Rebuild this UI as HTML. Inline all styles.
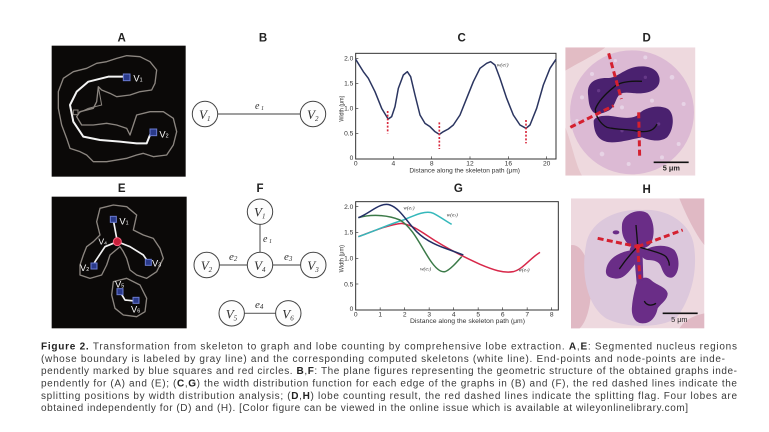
<!DOCTYPE html>
<html><head><meta charset="utf-8"><style>
html,body{margin:0;padding:0;background:#fff;}
svg{display:block;}
.lbl{font-family:"Liberation Sans",sans-serif;font-weight:bold;font-size:11.5px;fill:#222;text-anchor:middle;}
.cap{font-family:"Liberation Sans",sans-serif;font-size:10px;fill:#3a3a3a;}
.cap tspan.b{font-weight:bold;fill:#222;}
.tk{font-family:"Liberation Sans",sans-serif;font-size:20px;fill:#333;}
.ser{font-family:"Liberation Serif",serif;font-style:italic;fill:#333;}
.wl{font-family:"Liberation Sans",sans-serif;font-size:13px;fill:#fff;}
</style></head><body>
<svg width="769" height="432" viewBox="0 0 769 432" xmlns="http://www.w3.org/2000/svg">
<defs>
<clipPath id="cd"><rect x="10" y="10" width="390" height="385"/></clipPath>
<clipPath id="ch"><rect x="15" y="10" width="400" height="390"/></clipPath>
</defs>
<rect width="769" height="432" fill="#fff"/>

<!-- panel labels -->
<text class="lbl" x="121.7" y="41.7">A</text>
<text class="lbl" x="263" y="41.7">B</text>
<text class="lbl" x="461.7" y="41.7">C</text>
<text class="lbl" x="646.7" y="41.7">D</text>
<text class="lbl" x="121.7" y="192">E</text>
<text class="lbl" x="260" y="192">F</text>
<text class="lbl" x="458.3" y="192">G</text>
<text class="lbl" x="646.7" y="193">H</text>

<!-- Panel A -->
<g transform="translate(30,25) scale(0.33333)">
<rect x="65" y="62" width="402" height="393" fill="#0b0908"/>
<path d="M260,100 L290,92 L330,95 L360,110 L380,135 L375,175 L365,195 L330,200 L300,210 L260,215 L240,205 L215,195 L205,185 L200,230 L190,250 L150,260 L140,275 L155,300 L190,300 L230,295 L260,300 L290,310 L300,330 L310,300 L320,270 L360,260 L400,260 L430,280 L440,320 L430,360 L410,390 L370,395 L340,385 L320,390 L290,400 L230,410 L190,410 L170,390 L150,380 L120,370 L110,340 L95,300 L85,250 L85,200 L100,160 L130,140 L170,130 L200,115 L230,110 Z" fill="none" stroke="#8c8680" stroke-width="4" stroke-linejoin="round"/>
<path d="M205,185 L215,240 L175,250 L150,262" fill="none" stroke="#8c8680" stroke-width="3"/>
<path d="M290,155 L235,155 L175,170 L140,200 L120,240 L130,290 L160,335 L210,345 L270,350 L320,355 L350,355 L360,330 L370,322" fill="none" stroke="#f4f4f4" stroke-width="6" stroke-linejoin="round"/>
<rect x="130" y="255" width="14" height="14" fill="none" stroke="#8c8680" stroke-width="3"/>
<rect x="280" y="147" width="20" height="20" fill="#2a3a8a" stroke="#6a7ad0" stroke-width="3"/>
<rect x="360" y="312" width="20" height="20" fill="#2a3a8a" stroke="#6a7ad0" stroke-width="3"/>
<text class="wl" x="310" y="170" style="font-size:28px">V<tspan style="font-size:16px">1</tspan></text>
<text class="wl" x="388" y="338" style="font-size:28px">V<tspan style="font-size:16px">2</tspan></text>
</g>

<!-- Panel B -->
<line x1="218" y1="114" x2="300" y2="114" stroke="#666" stroke-width="1.2"/>
<circle cx="205" cy="114" r="12.7" fill="#fdfdfd" stroke="#444" stroke-width="1"/>
<circle cx="313" cy="114" r="12.7" fill="#fdfdfd" stroke="#444" stroke-width="1"/>
<text class="ser" x="199" y="119" font-size="13">V<tspan font-size="7" dy="2">1</tspan></text>
<text class="ser" x="307" y="119" font-size="13">V<tspan font-size="7" dy="2">2</tspan></text>
<text class="ser" x="255" y="109" font-size="10">e<tspan font-size="6" dy="1"> 1</tspan></text>

<!-- Panel C -->
<g transform="translate(320,25) scale(0.33333)">
<rect x="107" y="85" width="601" height="317" fill="none" stroke="#333" stroke-width="3"/>
<g stroke="#333" stroke-width="2">
<line x1="220" y1="402" x2="220" y2="394"/><line x1="335" y1="402" x2="335" y2="394"/><line x1="450" y1="402" x2="450" y2="394"/><line x1="565" y1="402" x2="565" y2="394"/><line x1="680" y1="402" x2="680" y2="394"/>
<line x1="107" y1="100" x2="115" y2="100"/><line x1="107" y1="175" x2="115" y2="175"/><line x1="107" y1="250" x2="115" y2="250"/><line x1="107" y1="325" x2="115" y2="325"/>
</g>
<text class="tk" x="100" y="107" text-anchor="end">2.0</text>
<text class="tk" x="100" y="182" text-anchor="end">1.5</text>
<text class="tk" x="100" y="257" text-anchor="end">1.0</text>
<text class="tk" x="100" y="332" text-anchor="end">0.5</text>
<text class="tk" x="100" y="405" text-anchor="end">0</text>
<text class="tk" x="107" y="422" text-anchor="middle">0</text>
<text class="tk" x="220" y="422" text-anchor="middle">4</text>
<text class="tk" x="335" y="422" text-anchor="middle">8</text>
<text class="tk" x="450" y="422" text-anchor="middle">12</text>
<text class="tk" x="565" y="422" text-anchor="middle">16</text>
<text class="tk" x="680" y="422" text-anchor="middle">20</text>
<text class="tk" x="268" y="442" textLength="332" lengthAdjust="spacingAndGlyphs">Distance along the skeleton path (μm)</text>
<text class="tk" transform="translate(70,290) rotate(-90)" textLength="78" lengthAdjust="spacingAndGlyphs">Width (μm)</text>
<polyline points="107,103 130,140 145,160 165,200 185,250 200,275 205,282 215,275 225,245 235,190 250,150 262,140 272,155 285,210 300,270 315,295 330,305 345,320 358,328 370,320 385,312 400,300 420,270 440,220 460,170 480,130 500,115 512,110 525,120 540,160 560,220 580,270 600,300 618,310 630,300 650,250 670,180 690,130 708,103" fill="none" stroke="#2b3560" stroke-width="4.5" stroke-linejoin="round"/>
<g stroke="#d8283c" stroke-width="5" stroke-dasharray="6 5">
<line x1="203" y1="258" x2="203" y2="325"/>
<line x1="358" y1="292" x2="358" y2="372"/>
<line x1="618" y1="285" x2="618" y2="355"/>
</g>
<text class="ser" x="530" y="124" font-size="17">w(e<tspan font-size="11">1</tspan>)</text>
</g>

<!-- Panel D -->
<g transform="translate(562,44) scale(0.33333)">
<g clip-path="url(#cd)">
<rect x="10" y="10" width="390" height="385" fill="#eed9de"/>
<path d="M10,10 L130,10 C105,30 60,50 10,80 Z" fill="#e2bcc4"/>
<path d="M10,250 C30,300 40,360 60,395 L10,395 Z" fill="#e6c6cc"/>
<circle cx="210" cy="205" r="186" fill="#dcbad4"/>
<g fill="#eadaea" opacity="0.8">
<circle cx="60" cy="160" r="6"/><circle cx="330" cy="100" r="7"/><circle cx="350" cy="300" r="6"/><circle cx="120" cy="330" r="7"/><circle cx="200" cy="360" r="6"/><circle cx="300" cy="340" r="6"/><circle cx="90" cy="90" r="6"/><circle cx="365" cy="180" r="6"/><circle cx="250" cy="40" r="6"/><circle cx="45" cy="230" r="5"/><circle cx="160" cy="50" r="5"/><circle cx="270" cy="170" r="6"/><circle cx="180" cy="190" r="6"/>
</g>
<path d="M78,150 C75,115 100,100 140,102 C165,100 180,80 215,70 C250,62 285,70 292,100 C298,130 270,148 230,148 C205,148 190,142 175,150 C160,160 160,190 140,200 C120,210 100,215 90,200 C80,185 80,170 78,150 Z" fill="#4a216f"/>
<path d="M95,230 C100,215 130,212 160,218 C185,222 205,225 225,215 C245,190 290,180 318,195 C340,210 335,260 315,280 C295,295 265,290 240,280 C210,285 180,295 150,295 C115,295 95,275 95,230 Z" fill="#4a216f"/>
<g fill="#7a4a9a" opacity="0.6"><circle cx="110" cy="140" r="5"/><circle cx="250" cy="100" r="5"/><circle cx="290" cy="240" r="5"/><circle cx="180" cy="260" r="5"/></g>
<path d="M240,112 C200,110 170,115 155,130 C130,150 110,170 100,195 C100,215 115,240 135,250 C165,258 200,255 230,262 C255,265 275,262 285,240" fill="none" stroke="#111" stroke-width="4"/>
<g stroke="#d42030" stroke-width="9" stroke-dasharray="18 10">
<line x1="140" y1="28" x2="178" y2="165"/>
<line x1="25" y1="250" x2="155" y2="185"/>
<line x1="230" y1="205" x2="233" y2="340"/>
</g>
<line x1="275" y1="355" x2="380" y2="355" stroke="#111" stroke-width="5"/>
<text x="328" y="380" text-anchor="middle" style="font-family:'Liberation Sans',sans-serif;font-weight:bold;font-size:22px;fill:#222">5 μm</text>
</g>
</g>

<!-- Panel E -->
<g transform="translate(30,175) scale(0.33333)">
<rect x="65" y="65" width="405" height="395" fill="#0b0908"/>
<path d="M210,100 L250,90 L290,95 L320,120 L310,165 L340,180 L370,190 L390,220 L400,250 L380,290 L350,310 L320,300 L300,285 L290,250 L280,230 L270,215 L240,240 L230,270 L215,300 L180,310 L150,300 L150,270 L160,240 L170,215 L190,200 L210,180 L200,140 Z" fill="none" stroke="#8c8680" stroke-width="4" stroke-linejoin="round"/>
<path d="M250,320 L290,310 L330,330 L350,370 L345,410 L320,425 L280,420 L255,400 L245,360 Z" fill="none" stroke="#8c8680" stroke-width="4" stroke-linejoin="round"/>
<g fill="none" stroke="#f4f4f4" stroke-width="5" stroke-linejoin="round">
<path d="M262,200 L250,135"/><path d="M262,200 L225,215 L195,260 L190,272"/><path d="M262,200 L300,215 L340,240 L355,262"/><path d="M270,350 L285,375 L315,378"/>
</g>
<g fill="#2a3a8a" stroke="#6a7ad0" stroke-width="3">
<rect x="241" y="124" width="18" height="18"/><rect x="183" y="264" width="18" height="18"/><rect x="346" y="253" width="18" height="18"/><rect x="261" y="341" width="18" height="18"/><rect x="309" y="367" width="18" height="18"/>
</g>
<circle cx="262" cy="200" r="12" fill="#c8203a" stroke="#ff6080" stroke-width="3"/>
<text class="wl" x="268" y="148" style="font-size:28px">V<tspan style="font-size:16px">1</tspan></text>
<text class="wl" x="205" y="208" style="font-size:26px">V<tspan style="font-size:15px">4</tspan></text>
<text class="wl" x="150" y="288" style="font-size:28px">V<tspan style="font-size:16px">2</tspan></text>
<text class="wl" x="366" y="275" style="font-size:28px">V<tspan style="font-size:16px">3</tspan></text>
<text class="wl" x="255" y="338" style="font-size:28px">V<tspan style="font-size:16px">5</tspan></text>
<text class="wl" x="303" y="412" style="font-size:28px">V<tspan style="font-size:16px">6</tspan></text>
</g>

<!-- Panel F -->
<g stroke="#666" stroke-width="1.2">
<line x1="260" y1="224" x2="260" y2="252"/>
<line x1="219" y1="265" x2="247" y2="265"/>
<line x1="273" y1="265" x2="301" y2="265"/>
<line x1="244" y1="313.3" x2="276" y2="313.3"/>
</g>
<g fill="#fdfdfd" stroke="#444" stroke-width="1">
<circle cx="260" cy="211.7" r="12.7"/><circle cx="206.7" cy="265" r="12.7"/><circle cx="260" cy="265" r="12.7"/><circle cx="313.3" cy="265" r="12.7"/><circle cx="231.7" cy="313.3" r="12.7"/><circle cx="288.3" cy="313.3" r="12.7"/>
</g>
<text class="ser" x="254" y="216.7" font-size="13">V<tspan font-size="7" dy="2">1</tspan></text>
<text class="ser" x="200.7" y="270" font-size="13">V<tspan font-size="7" dy="2">2</tspan></text>
<text class="ser" x="254" y="270" font-size="13">V<tspan font-size="7" dy="2">4</tspan></text>
<text class="ser" x="307.3" y="270" font-size="13">V<tspan font-size="7" dy="2">3</tspan></text>
<text class="ser" x="225.7" y="318.3" font-size="13">V<tspan font-size="7" dy="2">5</tspan></text>
<text class="ser" x="282.3" y="318.3" font-size="13">V<tspan font-size="7" dy="2">6</tspan></text>
<text class="ser" x="263" y="242" font-size="10">e<tspan font-size="6" dy="1"> 1</tspan></text>
<text class="ser" x="229" y="260" font-size="11">e<tspan font-size="7" dy="1">2</tspan></text>
<text class="ser" x="284" y="260" font-size="11">e<tspan font-size="7" dy="1">3</tspan></text>
<text class="ser" x="255" y="308" font-size="11">e<tspan font-size="7" dy="1">4</tspan></text>

<!-- Panel G -->
<g transform="translate(320,175) scale(0.33333)">
<rect x="107" y="80" width="608" height="325" fill="none" stroke="#333" stroke-width="3"/>
<g stroke="#333" stroke-width="2">
<line x1="180.5" y1="405" x2="180.5" y2="397"/><line x1="254" y1="405" x2="254" y2="397"/><line x1="327.5" y1="405" x2="327.5" y2="397"/><line x1="401" y1="405" x2="401" y2="397"/><line x1="474.5" y1="405" x2="474.5" y2="397"/><line x1="548" y1="405" x2="548" y2="397"/><line x1="621.5" y1="405" x2="621.5" y2="397"/><line x1="695" y1="405" x2="695" y2="397"/>
<line x1="107" y1="95" x2="115" y2="95"/><line x1="107" y1="172" x2="115" y2="172"/><line x1="107" y1="250" x2="115" y2="250"/><line x1="107" y1="327" x2="115" y2="327"/>
</g>
<text class="tk" x="100" y="102" text-anchor="end">2.0</text>
<text class="tk" x="100" y="179" text-anchor="end">1.5</text>
<text class="tk" x="100" y="257" text-anchor="end">1.0</text>
<text class="tk" x="100" y="334" text-anchor="end">0.5</text>
<text class="tk" x="100" y="408" text-anchor="end">0</text>
<text class="tk" x="107" y="424" text-anchor="middle">0</text>
<text class="tk" x="180.5" y="424" text-anchor="middle">1</text>
<text class="tk" x="254" y="424" text-anchor="middle">2</text>
<text class="tk" x="327.5" y="424" text-anchor="middle">3</text>
<text class="tk" x="401" y="424" text-anchor="middle">4</text>
<text class="tk" x="474.5" y="424" text-anchor="middle">5</text>
<text class="tk" x="548" y="424" text-anchor="middle">6</text>
<text class="tk" x="621.5" y="424" text-anchor="middle">7</text>
<text class="tk" x="695" y="424" text-anchor="middle">8</text>
<text class="tk" x="270" y="444" textLength="345" lengthAdjust="spacingAndGlyphs">Distance along the skeleton path (μm)</text>
<text class="tk" transform="translate(70,292) rotate(-90)" textLength="82" lengthAdjust="spacingAndGlyphs">Width (μm)</text>
<g fill="none" stroke-width="4.5">
<path d="M115,185 C160,168 210,148 245,145 C280,150 310,175 350,200 C390,225 430,245 480,268 C520,285 550,295 580,290 C610,282 630,250 660,232" stroke="#d8284a"/>
<path d="M115,185 C160,170 200,150 250,135 C290,118 320,105 340,115 C360,125 380,140 395,148" stroke="#35b8bb"/>
<path d="M115,128 C150,118 200,118 240,135 C280,160 300,210 330,255 C350,285 365,292 375,290 C390,285 410,262 425,245" stroke="#3b7a48"/>
<path d="M115,128 C150,115 180,80 210,90 C240,100 260,140 290,170 C320,200 360,215 390,225 L430,240" stroke="#232f66"/>
</g>
<text class="ser" x="250" y="104" font-size="16">w(e<tspan font-size="10">1</tspan>)</text>
<text class="ser" x="380" y="124" font-size="16">w(e<tspan font-size="10">3</tspan>)</text>
<text class="ser" x="300" y="286" font-size="16">w(e<tspan font-size="10">2</tspan>)</text>
<text class="ser" x="595" y="290" font-size="16">w(e<tspan font-size="10">4</tspan>)</text>
</g>

<!-- Panel H -->
<g transform="translate(566,195) scale(0.33333)">
<g clip-path="url(#ch)">
<rect x="15" y="10" width="400" height="390" fill="#eed9df"/>
<ellipse cx="20" cy="280" rx="55" ry="130" fill="#e0b9c4"/>
<path d="M340,10 L415,10 L415,150 C390,120 360,60 340,10 Z" fill="#e0b9c4"/>
<path d="M340,400 C360,370 390,360 415,355 L415,400 Z" fill="#e0b9c4"/>
<path d="M60,150 C70,80 150,40 230,45 C310,40 380,90 385,160 C395,240 370,320 330,370 C280,400 180,400 120,370 C60,330 45,230 60,150 Z" fill="#dcc8dc"/>
<g fill="#6a2d87">
<path d="M168,90 C170,55 220,38 245,55 C265,75 268,120 255,145 C240,165 210,165 190,150 C172,135 166,115 168,90 Z"/>
<path d="M120,225 C125,190 160,170 200,165 C220,165 220,195 205,210 C185,235 170,255 145,250 C125,248 118,240 120,225 Z"/>
<path d="M230,170 C255,150 300,145 325,165 C345,190 340,240 318,248 C300,250 292,235 285,215 C280,200 265,195 245,195 C230,192 222,180 230,170 Z"/>
<path d="M210,270 C215,250 240,240 255,255 C270,270 300,275 305,295 C305,315 285,325 275,340 C270,365 255,385 230,385 C205,385 195,360 198,335 C200,310 205,290 210,270 Z"/>
<circle cx="215" cy="168" r="24"/>
<path d="M205,185 L230,185 L232,255 L212,265 Z"/>
<ellipse cx="150" cy="112" rx="10" ry="6"/>
</g>
<g fill="none" stroke="#111" stroke-width="4">
<path d="M210,90 C212,115 214,135 215,152"/>
<path d="M215,155 C195,175 175,200 160,222"/>
<path d="M215,155 C250,165 290,175 300,185 C308,195 310,205 310,212"/>
<path d="M235,318 C240,330 255,335 270,325"/>
</g>
<g stroke="#d42030" stroke-width="9" stroke-dasharray="18 10">
<line x1="95" y1="130" x2="215" y2="155"/>
<line x1="215" y1="155" x2="350" y2="105"/>
<line x1="215" y1="155" x2="222" y2="252"/>
</g>
<circle cx="215" cy="155" r="8" fill="#e02030"/>
<line x1="290" y1="355" x2="395" y2="355" stroke="#111" stroke-width="5"/>
<text x="340" y="381" text-anchor="middle" style="font-family:'Liberation Sans',sans-serif;font-size:22px;fill:#222">5 μm</text>
</g>
</g>

<!-- Caption -->
<text class="cap" x="41" y="349.5" textLength="696" lengthAdjust="spacing"><tspan class="b">Figure 2.</tspan> Transformation from skeleton to graph and lobe counting by comprehensive lobe extraction. <tspan class="b">A</tspan>,<tspan class="b">E</tspan>: Segmented nucleus regions</text>
<text class="cap" x="41" y="361.8" textLength="684" lengthAdjust="spacing">(whose boundary is labeled by gray line) and the corresponding computed skeletons (white line). End-points and node-points are inde-</text>
<text class="cap" x="41" y="374.2" textLength="696" lengthAdjust="spacing">pendently marked by blue squares and red circles. <tspan class="b">B</tspan>,<tspan class="b">F</tspan>: The plane figures representing the geometric structure of the obtained graphs inde-</text>
<text class="cap" x="41" y="386.5" textLength="696" lengthAdjust="spacing">pendently for (A) and (E); (<tspan class="b">C</tspan>,<tspan class="b">G</tspan>) the width distribution function for each edge of the graphs in (B) and (F), the red dashed lines indicate the</text>
<text class="cap" x="41" y="398.8" textLength="696" lengthAdjust="spacing">splitting positions by width distribution analysis; (<tspan class="b">D</tspan>,<tspan class="b">H</tspan>) lobe counting result, the red dashed lines indicate the splitting flag. Four lobes are</text>
<text class="cap" x="41" y="411.2" textLength="647" lengthAdjust="spacing">obtained independently for (D) and (H). [Color figure can be viewed in the online issue which is available at wileyonlinelibrary.com]</text>
</svg>
</body></html>
